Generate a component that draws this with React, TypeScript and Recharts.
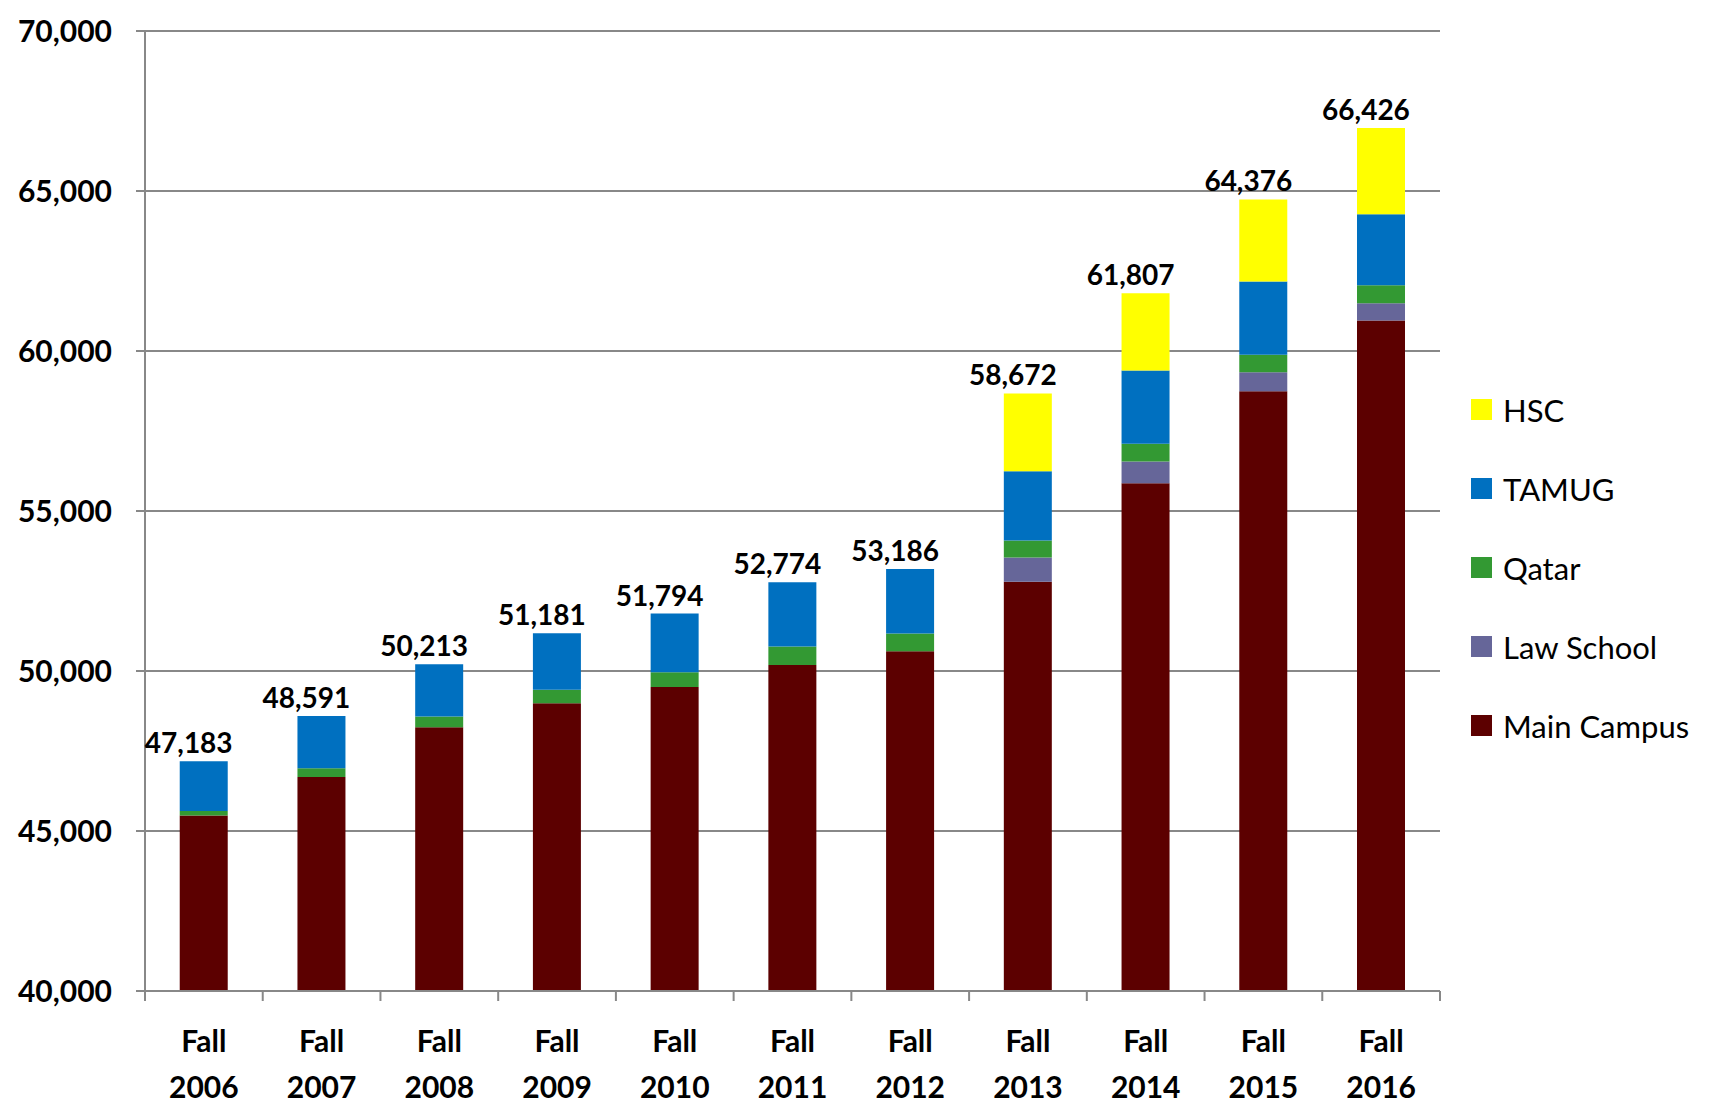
import React from 'react';
import { BarChart, Bar, XAxis, YAxis, CartesianGrid, LabelList } from 'recharts';

const years = ['2006', '2007', '2008', '2009', '2010', '2011', '2012', '2013', '2014', '2015', '2016'];
const mainCampus = [45487, 46686, 48244, 48993, 49503, 50191, 50617, 52792, 55870, 58740, 60957];
const lawSchool = [0, 0, 0, 0, 0, 0, 0, 755, 679, 596, 537];
const qatar = [136, 272, 335, 419, 461, 572, 558, 530, 549, 548, 560];
const tamug = [1560, 1633, 1634, 1769, 1830, 2011, 2011, 2165, 2289, 2290, 2218];
const hsc = [0, 0, 0, 0, 0, 0, 0, 2430, 2420, 2563, 2695];
const totalLabels = ['47,183', '48,591', '50,213', '51,181', '51,794', '52,774', '53,186', '58,672', '61,807', '64,376', '66,426'];
const yTicks = [40000, 45000, 50000, 55000, 60000, 65000, 70000];

// stacking order, bottom first
const series = [
  { key: 'main', name: 'Main Campus', color: '#5C0000', values: mainCampus },
  { key: 'law', name: 'Law School', color: '#666699', values: lawSchool },
  { key: 'qatar', name: 'Qatar', color: '#339933', values: qatar },
  { key: 'tamug', name: 'TAMUG', color: '#0070C0', values: tamug },
  { key: 'hsc', name: 'HSC', color: '#FFFF00', values: hsc },
];

const W = 1719;
const H = 1110;
const PLOT_LEFT = 145;
const PLOT_RIGHT = 1440;
const halfBand = (PLOT_RIGHT - PLOT_LEFT) / years.length / 2;
const FONT = 'Lato, "Open Sans", sans-serif';
const AXIS_GRAY = '#888888';

const data = years.map((year, i) => {
  const row: Record<string, string | number> = { year, label: totalLabels[i] };
  series.forEach((s) => (row[s.key] = s.values[i]));
  return row;
});

const XTick = (props: any) => {
  const { x, y, payload, index } = props;
  return (
    <g>
      <line x1={x - halfBand} y1={y} x2={x - halfBand} y2={y + 10} stroke={AXIS_GRAY} strokeWidth={2} />
      {index === years.length - 1 && (
        <line x1={x + halfBand} y1={y} x2={x + halfBand} y2={y + 10} stroke={AXIS_GRAY} strokeWidth={2} />
      )}
      <text x={x} y={y + 61} textAnchor="middle" fontFamily={FONT} fontWeight="bold" fontSize={30} fill="#000">
        Fall
      </text>
      <text x={x} y={y + 107} textAnchor="middle" fontFamily={FONT} fontWeight="bold" fontSize={30} fill="#000">
        {payload.value}
      </text>
    </g>
  );
};

const TotalLabel = (props: any) => {
  const { x, y, width, value } = props;
  if (value == null) return null;
  return (
    <text
      x={x + width / 2 - 15}
      y={y - 8}
      textAnchor="middle"
      fontFamily={FONT}
      fontWeight="bold"
      fontSize={28}
      fill="#000"
    >
      {value}
    </text>
  );
};

// the total sits on HSC where there is HSC, otherwise on TAMUG
const labelOn = (key: string) => (entry: any) => {
  const p = entry.payload || {};
  const topKey = p.hsc > 0 ? 'hsc' : 'tamug';
  return topKey === key ? p.label : null;
};

export default function App() {
  return (
    <div style={{ position: 'absolute', left: 0, top: 0, width: W, height: H, background: '#fff' }}>
      <BarChart
        width={W}
        height={H}
        data={data}
        margin={{ top: 31, right: W - PLOT_RIGHT, left: 0, bottom: 0 }}
        barCategoryGap="29.5%"
      >
        <CartesianGrid vertical={false} stroke={AXIS_GRAY} strokeWidth={2} />
        <XAxis
          dataKey="year"
          height={119}
          interval={0}
          tickSize={0}
          tickMargin={0}
          tickLine={false}
          axisLine={{ stroke: AXIS_GRAY, strokeWidth: 2 }}
          tick={<XTick />}
        />
        <YAxis
          width={PLOT_LEFT}
          domain={[40000, 70000]}
          allowDataOverflow
          ticks={yTicks}
          interval={0}
          tickFormatter={(v: number) => v.toLocaleString('en-US')}
          tickSize={9}
          tickMargin={24}
          tickLine={{ stroke: AXIS_GRAY, strokeWidth: 2 }}
          axisLine={{ stroke: AXIS_GRAY, strokeWidth: 2 }}
          tick={{ fontFamily: FONT, fontWeight: 'bold', fontSize: 30, fill: '#000' }}
        />
        {series.map((s) => (
          <Bar key={s.key} dataKey={s.key} name={s.name} stackId="a" fill={s.color} isAnimationActive={false}>
            {(s.key === 'hsc' || s.key === 'tamug') && (
              <LabelList valueAccessor={labelOn(s.key)} content={<TotalLabel />} />
            )}
          </Bar>
        ))}
      </BarChart>
      <div style={{ position: 'absolute', left: 1471, top: 370, fontFamily: FONT, fontSize: 31, color: '#000' }}>
        {[...series].reverse().map((s) => (
          <div key={s.key} style={{ display: 'flex', alignItems: 'center', height: 79 }}>
            <span style={{ width: 21, height: 21, background: s.color, marginRight: 11, display: 'inline-block' }} />
            <span>{s.name}</span>
          </div>
        ))}
      </div>
    </div>
  );
}
